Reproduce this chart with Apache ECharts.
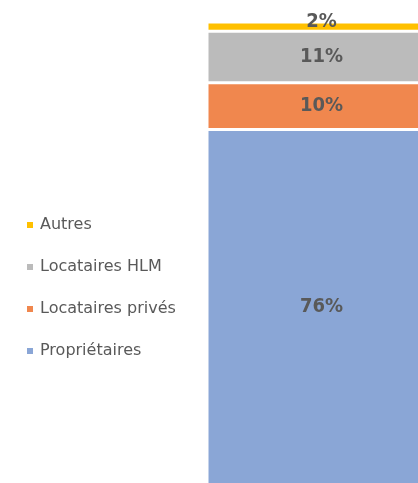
<!DOCTYPE html>
<html>
<head>
<meta charset="utf-8">
<script src="https://cdn.jsdelivr.net/npm/echarts@6/dist/echarts.min.js"></script>
<style>
  html, body { margin: 0; padding: 0; background: #fff; overflow: hidden; }
  #chart { width: 436px; height: 485px; }
</style>
</head>
<body>
<div id="chart"></div>
<script>
// statut d'occupation (%)
const categories = [""];
const seriesNames = ["Propriétaires", "Locataires privés", "Locataires HLM", "Autres"];
const values = [76, 10, 11, 2];
const legendOrder = ["Autres", "Locataires HLM", "Locataires privés", "Propriétaires"];

const colors = ["#8AA6D6", "#F0874E", "#BBBBBB", "#FFC000"];
const total = values.reduce((a, b) => a + b, 0);

const chart = echarts.init(document.getElementById("chart"));

chart.setOption({
  animation: false,
  grid: {
    left: 207,
    top: 22,
    bottom: 0,
    right: 0,
  },
  legend: {
    orient: "vertical",
    left: 25,
    top: 217,
    padding: 0,
    data: legendOrder,
    icon: "rect",
    itemWidth: 8,
    itemHeight: 8,
    itemGap: 26,
    textStyle: {
      fontFamily: "DejaVu Sans",
      fontSize: 16,
      color: "#595959",
      padding: [0, 0, 0, 1],
    },
  },
  xAxis: {
    type: "category",
    data: categories,
    show: false,
  },
  yAxis: {
    type: "value",
    min: 0,
    max: total,
    show: false,
  },
  series: seriesNames.map((name, i) => ({
    name,
    type: "bar",
    stack: "total",
    barWidth: "100%",
    data: [values[i]],
    itemStyle: {
      color: colors[i],
      borderColor: "#fff",
      borderWidth: 1.5,
    },
    label: {
      show: true,
      position: "inside",
      offset: i === 3 ? [0, -5] : [0, 0],
      formatter: "{c}%",
      fontFamily: "DejaVu Sans Condensed",
      fontWeight: "bold",
      fontSize: 20,
      color: "#595959",
    },
  })),
});
</script>
</body>
</html>
